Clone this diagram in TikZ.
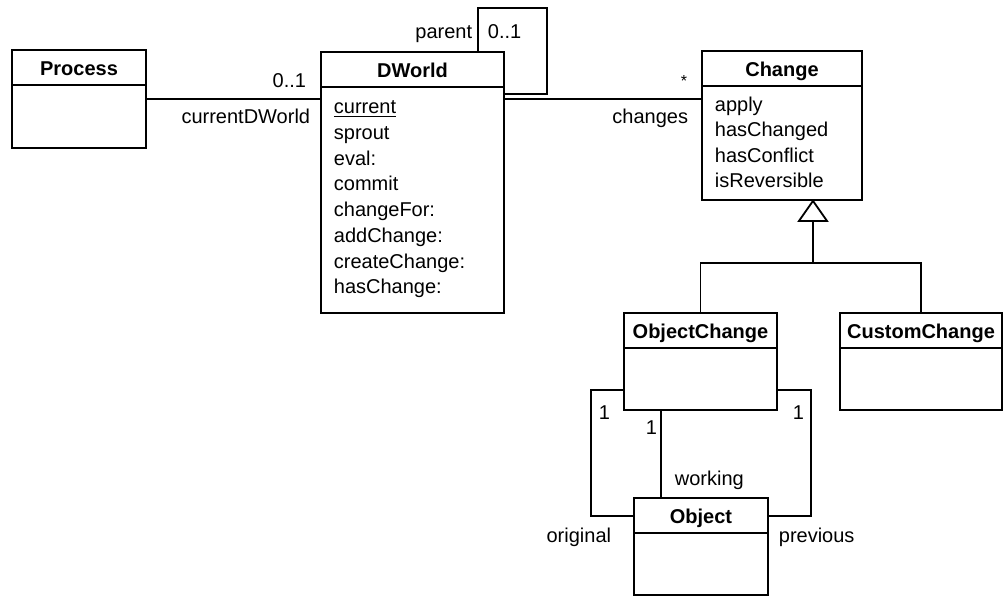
\documentclass[tikz,border=0pt]{standalone}
\usepackage{fontspec}
\setmainfont{Liberation Sans}
\usetikzlibrary{fit}
\begin{document}
\begin{tikzpicture}[x=0.5pt,y=-0.5pt,line width=0.9pt,font=\fontsize{10}{12}\selectfont,
  cls/.style={draw,inner sep=0pt},
  ctitle/.style={anchor=base,inner sep=0pt,font=\fontsize{10}{12}\selectfont\bfseries},
  item/.style={anchor=base west,inner sep=0pt},
  rlbl/.style={anchor=base east,inner sep=0pt},
  llbl/.style={anchor=base west,inner sep=0pt}]
\useasboundingbox (0,0) rectangle (1003,596);

% class boxes
\node[cls,fit={(12,50) (146,148)}] (process) {};
\node[cls,fit={(321,52) (504,313)}] (dworld) {};
\node[cls,fit={(702,51) (862,200)}] (change) {};
\node[cls,fit={(624,313) (777,410)}] (objchange) {};
\node[cls,fit={(840,313) (1002,410)}] (custchange) {};
\node[cls,fit={(634,498) (768,595)}] (object) {};

% names and header dividers
\foreach \c/\t in {process/Process,dworld/DWorld,change/Change,objchange/ObjectChange,custchange/CustomChange,object/Object}{
  \node[ctitle] at ([yshift=-13pt]\c.north) {\t};
  \draw ([yshift=-18pt]\c.north west) -- ([yshift=-18pt]\c.north east);
}

% DWorld operations
\node[item] at (333,113) {\underline{current}};
\node[item] at (333,139) {sprout};
\node[item] at (333,165) {eval:};
\node[item] at (333,190) {commit};
\node[item] at (333,216) {changeFor:};
\node[item] at (333,242) {addChange:};
\node[item] at (333,268) {createChange:};
\node[item] at (333,293) {hasChange:};

% Change operations
\node[item] at (714,111) {apply};
\node[item] at (714,136) {hasChanged};
\node[item] at (714,162) {hasConflict};
\node[item] at (714,187) {isReversible};

% Process -- DWorld
\draw (process.east) -- (process.east -| dworld.west);
\node[rlbl] at (307,87) {0..1};
\node[rlbl] at (311,123) {currentDWorld};

% DWorld -- Change
\draw (dworld.east |- process.east) -- (process.east -| change.west);
\node[rlbl,font=\fontsize{8}{10}\selectfont] at (688,86) {*};
\node[rlbl] at (689,123) {changes};

% parent self association
\coordinate (lp1) at (478,8);
\coordinate (lp2) at (547,94);
\draw (lp1 |- dworld.north) -- (lp1) -| (lp2) -- (lp2 -| dworld.east);
\node[rlbl] at (473,38) {parent};
\node[llbl] at (487,38) {0..1};

% generalization
\coordinate (gen) at (813,220);
\coordinate (bar) at (813,263);
\draw[line join=miter] (gen |- change.south) -- ++(14,20) -- ++(-28,0) -- cycle;
\draw (gen) -- (bar);
\draw (objchange.north) |- (bar) -| (custchange.north);

% ObjectChange -- Object
\coordinate (ol) at (591,390);
\coordinate (lo) at (591,516);
\coordinate (orr) at (811,390);
\coordinate (ro) at (811,516);
\coordinate (wk) at (661,0);
\draw (objchange.west |- ol) -- (ol) -- (lo) -- (lo -| object.west);
\draw (objchange.east |- orr) -- (orr) -- (ro) -- (ro -| object.east);
\draw (wk |- objchange.south) -- (wk |- object.north);
\node[llbl] at (598,419) {1};
\node[llbl] at (645,434) {1};
\node[llbl] at (792,419) {1};
\node[llbl] at (674,485) {working};
\node[rlbl] at (612,542) {original};
\node[llbl] at (778,542) {previous};
\end{tikzpicture}
\end{document}
